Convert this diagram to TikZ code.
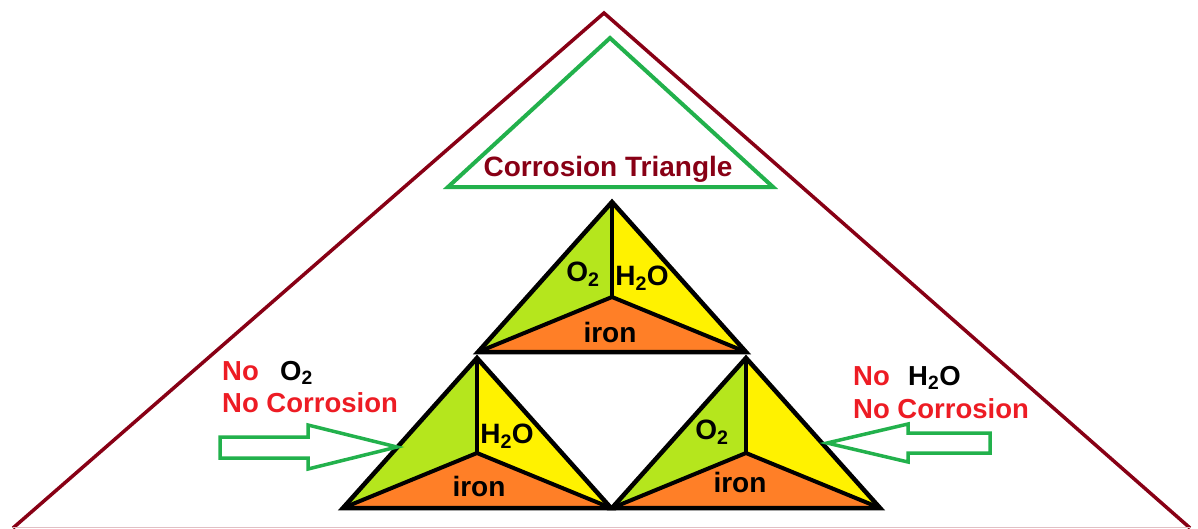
\documentclass[tikz,border=0pt]{standalone}
\usepackage{fontspec}
\setmainfont{Liberation Sans}
\usepackage{xcolor}
\usepackage{tikz}
\usetikzlibrary{positioning}

\definecolor{rustred}{HTML}{880015}
\definecolor{leafgreen}{HTML}{22B14C}
\definecolor{limefill}{HTML}{B5E61D}
\definecolor{sunfill}{HTML}{FFF200}
\definecolor{ironfill}{HTML}{FF7F27}
\definecolor{alarmred}{HTML}{ED1C24}

\begin{document}
\begin{tikzpicture}[
  x=1pt, y=-1pt,
  frame/.style={draw=rustred, line width=3.5pt, line join=miter},
  guide/.style={draw=leafgreen, line width=4pt, line join=miter},
  part/.style={draw=black, line width=4pt, line join=round},
  rim/.style={draw=black, line width=4.5pt, line join=miter},
  chem/.style={font=\fontsize{28}{33}\selectfont\bfseries, text=black, inner sep=0pt},
  warn/.style={font=\fontsize{27.5}{33}\selectfont\bfseries, text=alarmred, inner sep=0pt, anchor=base west},
  pusher/.style={draw=leafgreen, line width=3.5pt, fill=white, line join=miter}
]
\useasboundingbox (0,0) rectangle (1198,528);

% outer frame and title triangle
\coordinate (frame-a) at (604,13);
\coordinate (frame-l) at (13,528);
\coordinate (frame-r) at (1190,528);
\draw[frame] (frame-l) -- (frame-a) -- (frame-r);
\draw[draw=rustred!25, line width=1pt] (frame-l) ++(0,-0.5) -- ++(1177,0);

\coordinate (title-a) at (610,38);
\coordinate (title-l) at (448,187);
\coordinate (title-r) at (773,187);
\draw[guide] (title-a) -- (title-l) -- (title-r) -- cycle;
\node[font=\fontsize{28}{33}\selectfont\bfseries, text=rustred, inner sep=0pt, anchor=base]
  (title) at (608,176) {Corrosion Triangle};

% the three corrosion triangles
\foreach \nm/\ax/\ay in {top/612/202, lft/477/358, rgt/746/358} {
  \coordinate (\nm-a) at (\ax,\ay);
  \coordinate (\nm-i) at (\ax,\ay+95);
  \coordinate (\nm-l) at (\ax-134,\ay+150);
  \coordinate (\nm-r) at (\ax+134,\ay+150);
  \fill[limefill] (\nm-a) -- (\nm-i) -- (\nm-l) -- cycle;
  \fill[sunfill] (\nm-a) -- (\nm-i) -- (\nm-r) -- cycle;
  \fill[ironfill] (\nm-l) -- (\nm-i) -- (\nm-r) -- cycle;
  \draw[part] (\nm-a) -- (\nm-i);
  \draw[part] (\nm-l) -- (\nm-i) -- (\nm-r);
  \draw[rim] (\nm-a) -- (\nm-l) -- (\nm-r) -- cycle;
}

\node[chem] (topO) at (583,274) {O\textsubscript{2}};
\node[chem] (topH) at (642,278) {H\textsubscript{2}O};
\node[chem] (topFe) at (610,332) {iron};
\node[chem] (lftH) at (507,436) {H\textsubscript{2}O};
\node[chem] (lftFe) at (479,486) {iron};
\node[chem] (rgtO) at (712,432) {O\textsubscript{2}};
\node[chem] (rgtFe) at (740,482) {iron};

% left side: no oxygen
\node[warn] (lftNo) at (222,380) {No};
\node[warn, text=black] (lftGas) at (280,380) {O\textsubscript{2}};
\node[warn] (lftCorr) at (222,412) {No Corrosion};
\draw[pusher] (220,437) -- (308,437) -- (308,425) -- (397,447) -- (308,469)
  -- (308,458) -- (220,458) -- cycle;

% right side: no water
\node[warn] (rgtNo) at (853,385) {No};
\node[warn, text=black] (rgtGas) at (908,385) {H\textsubscript{2}O};
\node[warn] (rgtCorr) at (853,418) {No Corrosion};
\draw[pusher] (990,433) -- (908,433) -- (908,424) -- (827,443) -- (908,462)
  -- (908,453) -- (990,453) -- cycle;
\end{tikzpicture}
\end{document}
